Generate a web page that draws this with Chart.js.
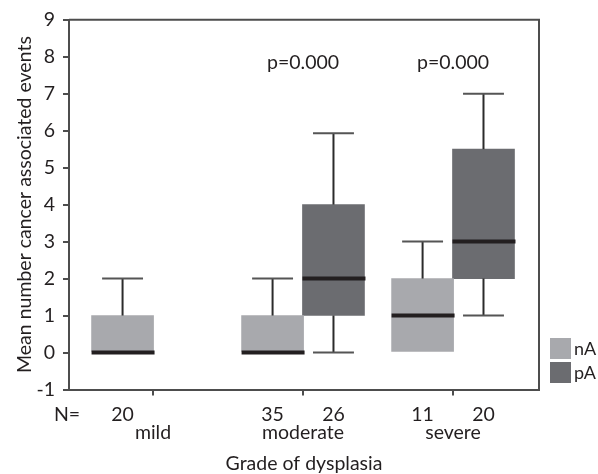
<!DOCTYPE html>
<html>
<head>
<meta charset="utf-8">
<title>Cancer associated events by grade of dysplasia</title>
<script src="https://cdn.jsdelivr.net/npm/chart.js@4.4.1/dist/chart.umd.min.js"></script>
<style>
  html, body { margin: 0; padding: 0; background: #fff; }
  #wrap { width: 598px; height: 474px; }
</style>
</head>
<body>
<div id="wrap"><canvas id="myChart"></canvas></div>
<script>
// Categories on the x axis
const categories = ["mild", "moderate", "severe"];

// nA box summaries per category
const nAMin = [0, 0, 0];
const nAQ1 = [0, 0, 0];
const nAMedian = [0, 0, 1];
const nAQ3 = [1, 1, 2];
const nAMax = [2, 2, 3];
const nACount = [20, 35, 11];

// pA box summaries per category (no mild group)
const pAMin = [null, 0, 1];
const pAQ1 = [null, 1, 2];
const pAMedian = [null, 2, 3];
const pAQ3 = [null, 4, 5.5];
const pAMax = [null, 5.93, 7];
const pACount = [null, 26, 20];

// Annotations above each group
const pLabels = [null, "p=0.000", "p=0.000"];
const pLabelLevel = 7.85;

// y axis range
const yMin = -1;
const yMax = 9;

const FONT = "Lato, 'DejaVu Sans', sans-serif";
const FONT_SIZE = 19.5;
const TEXT = "#231f20";
const AXIS = "#4d4d4d";
const GROUP_OFFSET = 0.203; // half the distance between nA and pA boxes (x units)

/**
 * Turns summary arrays into floating bar data (q1..q3) plus stats for the plugin
 */
const makeBoxes = (stats, side) =>
  categories
    .map((c, i) => ({ x: i + 1 + side * GROUP_OFFSET, y: [stats.q1[i], stats.q3[i]], i }))
    .filter(d => stats.q1[d.i] !== null);

const nAStats = { min: nAMin, q1: nAQ1, median: nAMedian, q3: nAQ3, max: nAMax, n: nACount };
const pAStats = { min: pAMin, q1: pAQ1, median: pAMedian, q3: pAQ3, max: pAMax, n: pACount };

// Whiskers, medians, counts, p-values, frame and legend
const boxExtras = {
  id: "boxExtras",
  afterDatasetsDraw(chart) {
    const { ctx, chartArea, scales } = chart;
    const y = scales.y;
    ctx.save();

    chart.data.datasets.forEach((ds, di) => {
      const meta = chart.getDatasetMeta(di);
      meta.data.forEach((el, j) => {
        const k = ds.data[j].i;
        const s = ds.stats;
        const half = el.width / 2;
        const cap = el.width * 0.33;

        // upper whisker
        ctx.strokeStyle = "#2b2b2b";
        ctx.lineWidth = 2;
        ctx.beginPath();
        ctx.moveTo(el.x, y.getPixelForValue(s.q3[k]));
        ctx.lineTo(el.x, y.getPixelForValue(s.max[k]));
        ctx.stroke();
        ctx.strokeStyle = "#555";
        ctx.beginPath();
        ctx.moveTo(el.x - cap, y.getPixelForValue(s.max[k]));
        ctx.lineTo(el.x + cap, y.getPixelForValue(s.max[k]));
        ctx.stroke();

        // lower whisker
        if (s.min[k] < s.q1[k]) {
          ctx.strokeStyle = "#2b2b2b";
          ctx.beginPath();
          ctx.moveTo(el.x, y.getPixelForValue(s.q1[k]));
          ctx.lineTo(el.x, y.getPixelForValue(s.min[k]));
          ctx.stroke();
          ctx.strokeStyle = "#555";
          ctx.beginPath();
          ctx.moveTo(el.x - cap, y.getPixelForValue(s.min[k]));
          ctx.lineTo(el.x + cap, y.getPixelForValue(s.min[k]));
          ctx.stroke();
        }

        // median
        ctx.strokeStyle = "#231f20";
        ctx.lineWidth = 4;
        ctx.beginPath();
        ctx.moveTo(el.x - half, y.getPixelForValue(s.median[k]));
        ctx.lineTo(el.x + half + 1, y.getPixelForValue(s.median[k]));
        ctx.stroke();

        // group size under the axis
        ctx.fillStyle = TEXT;
        ctx.font = FONT_SIZE + "px " + FONT;
        ctx.textAlign = "center";
        ctx.textBaseline = "middle";
        ctx.fillText(String(s.n[k]), el.x, chartArea.bottom + 25);
      });
    });

    ctx.fillStyle = TEXT;
    ctx.font = FONT_SIZE + "px " + FONT;
    ctx.textAlign = "center";
    ctx.textBaseline = "middle";
    ctx.fillText("N=", chartArea.left - 2, chartArea.bottom + 25);

    // p-values
    pLabels.forEach((label, i) => {
      if (!label) return;
      ctx.fillText(label, scales.x.getPixelForValue(i + 1), y.getPixelForValue(pLabelLevel));
    });

    // top and right frame
    ctx.strokeStyle = AXIS;
    ctx.lineWidth = 2;
    ctx.beginPath();
    ctx.moveTo(chartArea.left, chartArea.top);
    ctx.lineTo(chartArea.right, chartArea.top);
    ctx.lineTo(chartArea.right, chartArea.bottom);
    ctx.stroke();

    // legend, bottom right outside the frame
    ctx.textAlign = "left";
    ctx.font = "18px " + FONT;
    chart.data.datasets.forEach((ds, di) => {
      const top = chartArea.bottom - 51.5 + di * 24;
      ctx.fillStyle = ds.backgroundColor;
      ctx.fillRect(chartArea.right + 11, top, 21, 21);
      ctx.fillStyle = TEXT;
      ctx.fillText(ds.label, chartArea.right + 35, top + 11);
    });

    ctx.restore();
  },
};

new Chart("myChart", {
  type: "bar",
  data: {
    datasets: [
      {
        label: "nA",
        data: makeBoxes(nAStats, -1),
        stats: nAStats,
        backgroundColor: "#a8a9ad",
        borderWidth: 0,
        barThickness: 62,
        grouped: false,
      },
      {
        label: "pA",
        data: makeBoxes(pAStats, 1),
        stats: pAStats,
        backgroundColor: "#6b6c70",
        borderWidth: 0,
        barThickness: 62,
        grouped: false,
      },
    ],
  },
  options: {
    responsive: true,
    maintainAspectRatio: false,
    animation: false,
    layout: { padding: { top: 15, right: 59, left: 0, bottom: 0 } },
    plugins: {
      legend: { display: false },
      tooltip: { enabled: false },
    },
    scales: {
      x: {
        type: "linear",
        offset: false,
        min: 0.44,
        max: 3.573,
        afterBuildTicks: scale => {
          scale.ticks = categories.map((c, i) => ({ value: i + 1 }));
        },
        afterFit: scale => {
          scale.height = 84.5;
        },
        ticks: {
          callback: (value, index) => categories[index],
          font: { family: FONT, size: FONT_SIZE },
          color: TEXT,
          padding: 26,
          autoSkip: false,
          maxRotation: 0,
        },
        grid: { offset: false, drawOnChartArea: false, tickLength: 6, color: AXIS, lineWidth: 2 },
        border: { color: AXIS, width: 2 },
        title: {
          display: true,
          text: "Grade of dysplasia",
          font: { family: FONT, size: FONT_SIZE, lineHeight: 1 },
          color: TEXT,
          padding: { top: 0, bottom: 1 },
        },
      },
      y: {
        min: yMin,
        max: yMax,
        afterFit: scale => {
          scale.width = 69;
        },
        ticks: {
          stepSize: 1,
          font: { family: FONT, size: FONT_SIZE },
          color: TEXT,
          padding: 8,
        },
        grid: { drawOnChartArea: false, tickLength: 6, color: AXIS, lineWidth: 2 },
        border: { color: AXIS, width: 2 },
        title: {
          display: true,
          text: "Mean number cancer associated events",
          font: { family: FONT, size: FONT_SIZE },
          color: TEXT,
          padding: { top: 13, bottom: 0 },
        },
      },
    },
  },
  plugins: [boxExtras],
});
</script>
</body>
</html>
